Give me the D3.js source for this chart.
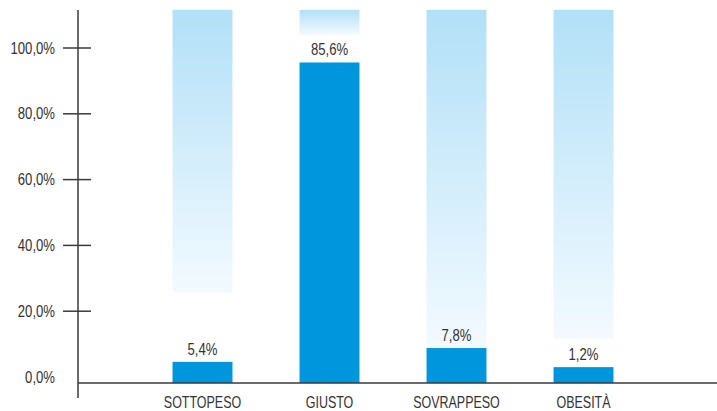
<!DOCTYPE html>
<html>
<head>
<meta charset="utf-8">
<script src="https://cdn.jsdelivr.net/npm/d3@7"></script>
<style>
    body { margin: 0; background: #fff; }
    #chart { width: 717px; height: 411px; }
    text { font-family: "Liberation Sans", Arial, sans-serif; fill: #333; font-size: 16px; }
</style>
</head>
<body>
<div id="chart"></div>
<script>
//Dati
const categorie = ['SOTTOPESO', 'GIUSTO', 'SOVRAPPESO', 'OBESITÀ'];
const etichette = ['5,4%', '85,6%', '7,8%', '1,2%'];
//altezza delle barre come disegnata sull'asse (non proporzionale alle etichette)
const altezze = [4.6, 95.6, 8.8, 3.0];
//fondo sfumato: dall'alto fino a questo valore
const fondoInizio = [25.7, 104, 8.8, 11.7];
const fondoFine = 111.6;
const ticks = [0, 20, 40, 60, 80, 100];

const COLOR_BAR = '#0096de',
COLOR_AXIS = '#3a3a3a';
//carattere stretto: Liberation Sans compresso in orizzontale
const NARROW = 0.82;

let svg = d3.select('#chart')
    .append('svg')
      .attr('width', 717)
      .attr('height', 411);

let defs = svg.append('defs');
let grad = defs.append('linearGradient')
    .attr('id', 'fondo')
    .attr('x1', 0).attr('y1', 0)
    .attr('x2', 0).attr('y2', 1);
grad.append('stop').attr('offset', '0%').attr('stop-color', '#b2e0f7');
grad.append('stop').attr('offset', '100%').attr('stop-color', '#f3faff');

let x = d3.scaleBand()
    .domain(categorie)
    .range([139, 647])
    .paddingInner(0.528)
    .paddingOuter(0.264);

let y = d3.scaleLinear()
    .domain([0, 100])
    .range([377, 48]);

const axisX = 78,
baseY = y(0) + 6;

//Fondo sfumato
svg.selectAll('.fondo')
    .data(categorie)
    .enter()
    .append('rect')
    .attr('class', 'fondo')
    .attr('x', function(d) { return x(d); })
    .attr('y', y(fondoFine))
    .attr('width', x.bandwidth())
    .attr('height', function(d, i) { return y(fondoInizio[i]) - y(fondoFine); })
    .attr('fill', 'url(#fondo)');

//Barre
svg.selectAll('.bar')
    .data(categorie)
    .enter()
    .append('rect')
    .attr('class', 'bar')
    .attr('x', function(d) { return x(d); })
    .attr('y', function(d, i) { return y(altezze[i]); })
    .attr('width', x.bandwidth())
    .attr('height', function(d, i) { return baseY - y(altezze[i]); })
    .attr('fill', COLOR_BAR);

//Etichette valori
svg.selectAll('.val')
    .data(categorie)
    .enter()
    .append('g')
    .attr('class', 'val')
    .attr('transform', function(d, i) {
        return 'translate(' + (x(d) + x.bandwidth() / 2) + ',' + (y(altezze[i]) - 7) + ') scale(' + NARROW + ',1)';
    })
    .append('text')
    .attr('text-anchor', 'middle')
    .text(function(d, i) { return etichette[i]; });

//Asse Y
let yAxis = svg.append('g');
yAxis.append('line')
    .attr('x1', axisX).attr('x2', axisX)
    .attr('y1', 10).attr('y2', 398)
    .attr('stroke', COLOR_AXIS)
    .attr('stroke-width', 1.5);

let tick = yAxis.selectAll('.tick')
    .data(ticks)
    .enter()
    .append('g')
    .attr('class', 'tick')
    .attr('transform', function(d) { return 'translate(' + axisX + ',' + y(d) + ')'; });

tick.filter(function(d) { return d != 0; })
    .append('line')
    .attr('x1', -15).attr('x2', 13)
    .attr('stroke', COLOR_AXIS)
    .attr('stroke-width', 1.5);

tick.append('g')
    .attr('transform', 'translate(-23,0) scale(' + NARROW + ',1)')
    .append('text')
    .attr('dy', '0.35em')
    .attr('text-anchor', 'end')
    .text(function(d) { return d3.format('.1f')(d).replace('.', ',') + '%'; });

//Asse X
svg.append('line')
    .attr('x1', axisX).attr('x2', 717)
    .attr('y1', baseY).attr('y2', baseY)
    .attr('stroke', COLOR_AXIS)
    .attr('stroke-width', 1.5);

svg.selectAll('.cat')
    .data(categorie)
    .enter()
    .append('g')
    .attr('class', 'cat')
    .attr('transform', function(d) {
        return 'translate(' + (x(d) + x.bandwidth() / 2) + ',' + (baseY + 25) + ') scale(0.78,1)';
    })
    .append('text')
    .attr('text-anchor', 'middle')
    .text(function(d) { return d; });
</script>
</body>
</html>
